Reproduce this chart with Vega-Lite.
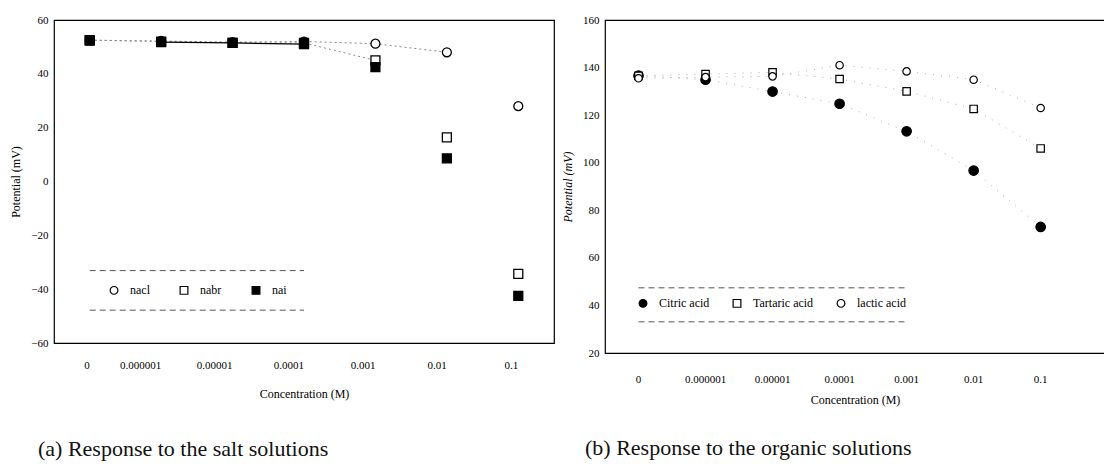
{
  "$schema": "https://vega.github.io/schema/vega-lite/v6.json",
  "background": "white",
  "padding": {"left": 9, "top": 13, "right": 0, "bottom": 0},
  "spacing": 5,
  "datasets": {
    "salt": [
      {"conc": "0", "series": "nacl", "mv": 52.5},
      {"conc": "0.000001", "series": "nacl", "mv": 52.2},
      {"conc": "0.00001", "series": "nacl", "mv": 51.8},
      {"conc": "0.0001", "series": "nacl", "mv": 52.0},
      {"conc": "0.001", "series": "nacl", "mv": 51.2},
      {"conc": "0.01", "series": "nacl", "mv": 48.0},
      {"conc": "0.1", "series": "nacl", "mv": 28.0},
      {"conc": "0", "series": "nabr", "mv": 52.5},
      {"conc": "0.000001", "series": "nabr", "mv": 52.0},
      {"conc": "0.00001", "series": "nabr", "mv": 51.5},
      {"conc": "0.0001", "series": "nabr", "mv": 51.5},
      {"conc": "0.001", "series": "nabr", "mv": 45.0},
      {"conc": "0.01", "series": "nabr", "mv": 16.4},
      {"conc": "0.1", "series": "nabr", "mv": -34.3},
      {"conc": "0", "series": "nai", "mv": 52.3},
      {"conc": "0.000001", "series": "nai", "mv": 51.8},
      {"conc": "0.00001", "series": "nai", "mv": 51.5},
      {"conc": "0.0001", "series": "nai", "mv": 51.0},
      {"conc": "0.001", "series": "nai", "mv": 42.5},
      {"conc": "0.01", "series": "nai", "mv": 8.6},
      {"conc": "0.1", "series": "nai", "mv": -42.5}
    ],
    "organic": [
      {"conc": "0", "series": "Citric acid", "mv": 136.6},
      {"conc": "0.000001", "series": "Citric acid", "mv": 134.9},
      {"conc": "0.00001", "series": "Citric acid", "mv": 129.9},
      {"conc": "0.0001", "series": "Citric acid", "mv": 124.8},
      {"conc": "0.001", "series": "Citric acid", "mv": 113.2},
      {"conc": "0.01", "series": "Citric acid", "mv": 96.7},
      {"conc": "0.1", "series": "Citric acid", "mv": 73.0},
      {"conc": "0", "series": "Tartaric acid", "mv": 136.5},
      {"conc": "0.000001", "series": "Tartaric acid", "mv": 137.3},
      {"conc": "0.00001", "series": "Tartaric acid", "mv": 138.0},
      {"conc": "0.0001", "series": "Tartaric acid", "mv": 135.2},
      {"conc": "0.001", "series": "Tartaric acid", "mv": 130.0},
      {"conc": "0.01", "series": "Tartaric acid", "mv": 122.6},
      {"conc": "0.1", "series": "Tartaric acid", "mv": 106.0},
      {"conc": "0", "series": "lactic acid", "mv": 135.5},
      {"conc": "0.000001", "series": "lactic acid", "mv": 136.0},
      {"conc": "0.00001", "series": "lactic acid", "mv": 136.3},
      {"conc": "0.0001", "series": "lactic acid", "mv": 141.0},
      {"conc": "0.001", "series": "lactic acid", "mv": 138.4},
      {"conc": "0.01", "series": "lactic acid", "mv": 134.9},
      {"conc": "0.1", "series": "lactic acid", "mv": 123.0}
    ],
    "saltbox": [
      {"from": "0", "to": "0.0001", "mv": -33.1},
      {"from": "0", "to": "0.0001", "mv": -47.8}
    ],
    "orgbox": [
      {"from": "0", "to": "0.001", "mv": 47.4},
      {"from": "0", "to": "0.001", "mv": 33.1}
    ]
  },
  "hconcat": [
    {
      "width": 500,
      "height": 323,
      "title": {"text": "(a) Response to the salt solutions", "orient": "bottom", "anchor": "start", "frame": "group", "dx": -16, "offset": 40, "fontSize": 22, "font": "Liberation Serif", "fontWeight": "normal", "color": "#111"},
      "layer": [
        {
          "data": {"name": "saltbox"},
          "mark": {"type": "rule", "color": "#555", "strokeDash": [6, 4], "strokeWidth": 1},
          "encoding": {
            "x": {"field": "from", "type": "nominal"},
            "x2": {"field": "to"},
            "y": {"field": "mv", "type": "quantitative"}
          }
        },
        {
          "data": {"name": "salt"},
          "transform": [{"filter": "(datum.series == 'nacl' && datum.conc != '0.1') || (datum.series == 'nabr' && datum.conc != '0.1' && datum.conc != '0.01')"}],
          "mark": {"type": "line", "color": "#888", "strokeDash": [2, 3], "strokeWidth": 1},
          "encoding": {
            "x": {"field": "conc", "type": "nominal"},
            "y": {"field": "mv", "type": "quantitative"},
            "detail": {"field": "series"}
          }
        },
        {
          "data": {"name": "salt"},
          "transform": [{"filter": "datum.series == 'nai' && (datum.conc == '0.000001' || datum.conc == '0.00001' || datum.conc == '0.0001')"}],
          "mark": {"type": "line", "color": "black", "strokeWidth": 1.3},
          "encoding": {
            "x": {"field": "conc", "type": "nominal"},
            "y": {"field": "mv", "type": "quantitative"}
          }
        },
        {
          "data": {"name": "salt"},
          "mark": {"type": "point", "filled": true, "strokeWidth": 1.3, "size": 80, "opacity": 1},
          "encoding": {
            "x": {
              "field": "conc", "type": "nominal", "sort": null,
              "scale": {"domain": ["0", "0.000001", "0.00001", "0.0001", "0.001", "0.01", "0.1"], "paddingInner": 0, "paddingOuter": 0},
              "axis": {"title": "Concentration (M)", "labelAngle": 0, "labelPadding": 22, "titlePadding": 18, "domain": false, "ticks": false}
            },
            "y": {
              "field": "mv", "type": "quantitative",
              "scale": {"domain": [-60, 60], "nice": false},
              "axis": {"title": "Potential (mV)", "values": [-60, -40, -20, 0, 20, 40, 60], "labelPadding": 6, "titlePadding": 8, "domain": false, "ticks": false, "grid": false}
            },
            "shape": {
              "field": "series", "type": "nominal",
              "scale": {"domain": ["nacl", "nabr", "nai"], "range": ["circle", "square", "square"]},
              "legend": {"title": null, "orient": "none", "legendX": 54, "legendY": 264, "direction": "horizontal", "columnPadding": 27, "labelOffset": 10}
            },
            "fill": {
              "field": "series", "type": "nominal",
              "scale": {"domain": ["nacl", "nabr", "nai"], "range": ["white", "white", "black"]},
              "legend": {"title": null, "orient": "none", "legendX": 54, "legendY": 264, "direction": "horizontal", "columnPadding": 27, "labelOffset": 10}
            },
            "stroke": {
              "field": "series", "type": "nominal",
              "scale": {"domain": ["nacl", "nabr", "nai"], "range": ["black", "black", "black"]},
              "legend": {"title": null, "orient": "none", "legendX": 54, "legendY": 264, "direction": "horizontal", "columnPadding": 27, "labelOffset": 10}
            }
          }
        }
      ]
    },
    {
      "width": 500,
      "height": 333,
      "title": {"text": "(b) Response to the organic solutions", "orient": "bottom", "anchor": "start", "frame": "group", "dx": -20, "offset": 33, "fontSize": 22, "font": "Liberation Serif", "fontWeight": "normal", "color": "#111"},
      "encoding": {
        "x": {
          "field": "conc", "type": "nominal", "sort": null,
          "scale": {"domain": ["0", "0.000001", "0.00001", "0.0001", "0.001", "0.01", "0.1"], "paddingInner": 0, "paddingOuter": 0.23, "align": 0},
          "axis": {"title": "Concentration (M)", "labelAngle": 0, "labelPadding": 20, "titlePadding": 10, "domain": false, "ticks": false}
        },
        "y": {
          "field": "mv", "type": "quantitative",
          "scale": {"domain": [20, 160], "nice": false},
          "axis": {"title": "Potential (mV)", "titleFontStyle": "italic", "values": [20, 40, 60, 80, 100, 120, 140, 160], "labelPadding": 6, "titlePadding": 8, "domain": false, "ticks": false, "grid": false}
        }
      },
      "layer": [
        {
          "data": {"name": "orgbox"},
          "mark": {"type": "rule", "color": "#555", "strokeDash": [6, 4], "strokeWidth": 1},
          "encoding": {
            "x": {"field": "from", "type": "nominal"},
            "x2": {"field": "to"},
            "y": {"field": "mv", "type": "quantitative"}
          }
        },
        {
          "data": {"name": "organic"},
          "mark": {"type": "line", "color": "#aaa", "strokeDash": [1, 7], "strokeWidth": 1},
          "encoding": {
            "detail": {"field": "series"}
          }
        },
        {
          "data": {"name": "organic"},
          "transform": [{"filter": "datum.series == 'Citric acid'"}],
          "mark": {"type": "point", "filled": true, "strokeWidth": 1.2, "opacity": 1, "size": 90},
          "encoding": {
            "shape": {
              "field": "series", "type": "nominal",
              "scale": {"domain": ["Citric acid", "Tartaric acid", "lactic acid"], "range": ["circle", "square", "circle"]},
              "legend": {"title": null, "orient": "none", "legendX": 32, "legendY": 277, "direction": "horizontal", "columnPadding": 20, "labelOffset": 10}
            },
            "fill": {
              "field": "series", "type": "nominal",
              "scale": {"domain": ["Citric acid", "Tartaric acid", "lactic acid"], "range": ["black", "white", "white"]},
              "legend": {"title": null, "orient": "none", "legendX": 32, "legendY": 277, "direction": "horizontal", "columnPadding": 20, "labelOffset": 10}
            },
            "stroke": {
              "field": "series", "type": "nominal",
              "scale": {"domain": ["Citric acid", "Tartaric acid", "lactic acid"], "range": ["black", "black", "black"]},
              "legend": {"title": null, "orient": "none", "legendX": 32, "legendY": 277, "direction": "horizontal", "columnPadding": 20, "labelOffset": 10}
            }
          }
        },
        {
          "data": {"name": "organic"},
          "transform": [{"filter": "datum.series != 'Citric acid'"}],
          "mark": {"type": "point", "filled": true, "strokeWidth": 1.2, "opacity": 1, "size": 55},
          "encoding": {
            "shape": {"field": "series", "type": "nominal"},
            "fill": {"field": "series", "type": "nominal"},
            "stroke": {"field": "series", "type": "nominal"}
          }
        }
      ]
    }
  ],
  "resolve": {"scale": {"shape": "independent", "fill": "independent", "stroke": "independent", "x": "independent", "y": "independent"}, "legend": {"shape": "independent", "fill": "independent", "stroke": "independent"}},
  "config": {
    "font": "Liberation Serif",
    "view": {"stroke": "black", "strokeWidth": 1.2},
    "axis": {"labelFont": "Liberation Serif", "labelFontSize": 11, "labelColor": "black", "titleFont": "Liberation Serif", "titleFontSize": 12, "titleFontWeight": "normal", "titleColor": "black"},
    "legend": {"labelFont": "Liberation Serif", "labelFontSize": 12, "labelColor": "black", "symbolStrokeWidth": 1.2, "symbolSize": 60}
  }
}
